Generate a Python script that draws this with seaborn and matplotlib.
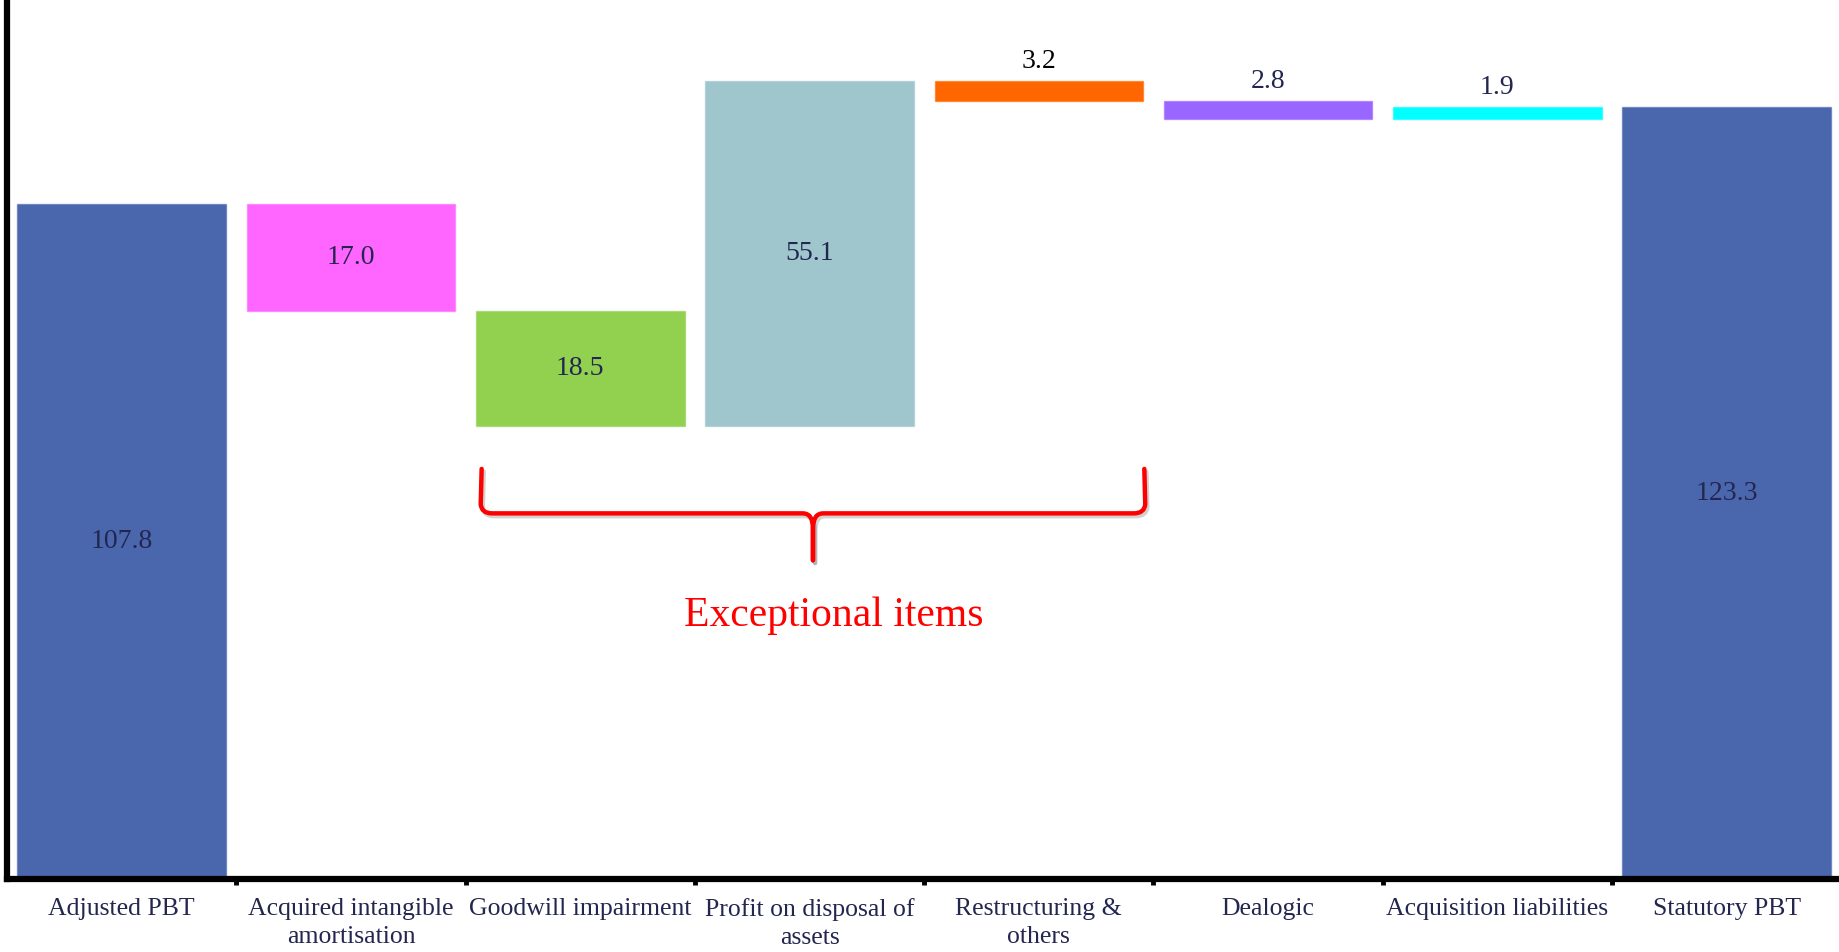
import numpy as np
import pandas as pd
import matplotlib
matplotlib.use("Agg")
import matplotlib.pyplot as plt
import matplotlib.patheffects as pe
from matplotlib.path import Path
from matplotlib.patches import PathPatch
import seaborn as sns

# Bridge from adjusted to statutory profit before tax
categories = [
    "Adjusted PBT",
    "Acquired intangible\namortisation",
    "Goodwill impairment",
    "Profit on disposal of\nassets",
    "Restructuring &\nothers",
    "Dealogic",
    "Acquisition liabilities",
    "Statutory PBT",
]
steps = [107.8, -17.0, -18.5, 55.1, -3.2, -2.8, 1.9, 123.3]
is_total = [True, False, False, False, False, False, False, True]
bar_colors = ["#4A67AE", "#FF66FF", "#92D050", "#9FC6CD",
              "#FF6600", "#9966FF", "#00FFFF", "#4A67AE"]
value_colors = ["#23264F", "#23264F", "#23264F", "#23264F",
                "#000000", "#23264F", "#23264F", "#23264F"]

# Waterfall geometry: floating bars start where the running total stands
bases, heights = [], []
running = 0.0
for v, tot in zip(steps, is_total):
    if tot:
        bases.append(0.0)
        heights.append(v)
        running = v
    else:
        bases.append(min(running, running + v))
        heights.append(abs(v))
        running += v

df = pd.DataFrame({"item": categories, "height": heights, "base": bases})

sns.set_theme(style="white")
plt.rcParams["font.family"] = ["Liberation Serif", "DejaVu Serif"]

fig = plt.figure(figsize=(18.39, 9.52), dpi=100)
ax = fig.add_axes([0.0038, 0.0767, 0.9975, 0.9233])

sns.barplot(data=df, x="item", y="height", order=categories,
            bottom=df["base"].to_numpy(), width=0.91, color=bar_colors[0],
            saturation=1, errorbar=None, ax=ax)

for patch, c in zip(ax.patches, bar_colors):
    patch.set_facecolor(c)
    patch.set_edgecolor(matplotlib.colors.to_rgba(c, 0.55))
    patch.set_linewidth(1.0)

ax.set_xlim(-0.5, 7.5)
ax.set_ylim(0, 140.4)
ax.set_xlabel("")
ax.set_ylabel("")
ax.set_yticks([])

# Axis styling
for side in ("top", "right"):
    ax.spines[side].set_visible(False)
for side in ("left", "bottom"):
    ax.spines[side].set_color("black")
    ax.spines[side].set_linewidth(4.5)

ax.set_xticks(range(len(categories)))
ax.set_xticklabels(categories, fontsize=18.5, color="#23264F", linespacing=1.3)
ax.set_xticks(np.arange(0.5, len(categories) - 0.5, 1.0), minor=True)
ax.tick_params(axis="x", which="major", length=0, pad=14, bottom=False)
ax.tick_params(axis="x", which="minor", bottom=True, length=4, width=3.5,
               color="black", direction="out")

# Value labels
for i, (b, h, v, col) in enumerate(zip(bases, heights, steps, value_colors)):
    label = f"{abs(v):.1f}"
    if h > 10:
        ax.text(i, b + h / 2, label, ha="center", va="center",
                fontsize=20, color=col)
    else:
        ax.annotate(label, (i, b + h), xytext=(0, 5), textcoords="offset points",
                    ha="center", va="bottom", fontsize=20, color=col)

# Brace grouping the exceptional items
x0, x1 = 2 - 0.43, 4 + 0.46
xm = (x0 + x1) / 2
y_top, y_bar, y_tip = 65.5, 58.4, 50.9
rx, ry = 0.045, 2.4

def half_brace(xa, sgn):
    verts = [(xa, y_top),
             (xa + sgn * 0.004, y_bar + ry * 0.6),
             (xa, y_bar), (xa - sgn * rx, y_bar),
             (xm + sgn * rx, y_bar),
             (xm, y_bar), (xm, y_bar - ry),
             (xm, y_tip)]
    codes = [Path.MOVETO, Path.LINETO,
             Path.CURVE3, Path.CURVE3,
             Path.LINETO,
             Path.CURVE3, Path.CURVE3,
             Path.LINETO]
    return Path(verts, codes)

for xa, sgn in ((x0, -1), (x1, 1)):
    brace = PathPatch(half_brace(xa, sgn), facecolor="none", edgecolor="#FF0000",
                      linewidth=3.2, capstyle="round", joinstyle="round",
                      path_effects=[pe.SimpleLineShadow(offset=(1.5, -2),
                                                        shadow_color="gray",
                                                        alpha=0.35),
                                    pe.Normal()])
    ax.add_patch(brace)

ax.text(xm + 0.09, 42.0, "Exceptional items", ha="center", va="center",
        fontsize=30, color="#FF0000")

fig.savefig("out.png", dpi=100, facecolor="white")
